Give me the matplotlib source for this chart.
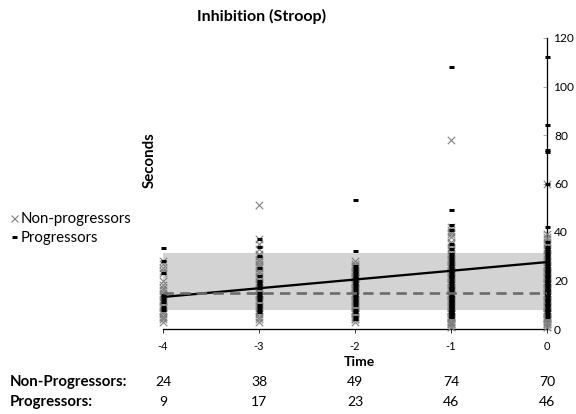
import matplotlib
matplotlib.use("Agg")
import matplotlib.pyplot as plt
import matplotlib.transforms as mtransforms
from matplotlib.lines import Line2D

plt.rcParams['font.family'] = ['Lato', 'DejaVu Sans']

title = "Inhibition (Stroop)"
times = [-4, -3, -2, -1, 0]
time_labels = ["-4", "-3", "-2", "-1", "0"]
n_nonprog = [24, 38, 49, 74, 70]
n_prog = [9, 17, 23, 46, 46]

np_m4 = [28, 27, 25, 24, 23, 20, 18, 17, 16, 15, 14, 13, 12, 11, 10, 9, 9, 8, 7, 6, 5, 5, 4, 3]
p_m4 = [33.5, 28, 23, 14, 13, 12, 11, 9, 8]
np_m3 = [51, 37, 35, 33, 31, 30, 29, 28, 27, 26, 25, 24, 23, 22, 21, 20, 19, 18, 18, 17,
         16, 16, 15, 14, 14, 13, 12, 12, 11, 10, 9, 8, 8, 7, 6, 5, 4, 3]
p_m3 = [37, 34, 30, 25, 22, 20, 19, 18, 17, 15, 14, 13, 12, 10, 9, 8, 7]
np_m2 = [28, 27, 26, 26, 25, 25, 24, 24, 23, 23, 22, 22, 21, 21, 20, 20, 19, 19, 18, 18,
         17, 17, 16, 16, 15, 15, 14, 14, 13, 13, 12, 12, 11, 11, 10, 10, 9, 9, 8, 8,
         7, 7, 6, 6, 5, 5, 4, 4, 3]
p_m2 = [53, 32, 26, 25, 24, 23, 22, 21, 20, 19, 18, 17, 16, 15, 14, 13, 12, 11, 10, 8, 7, 5, 4]
np_m1 = [78, 42, 41, 40, 39, 38, 36, 35, 34, 33, 32, 31, 30, 29, 29, 28, 28, 27, 27, 26,
         26, 25, 25, 24, 24, 23, 23, 22, 22, 21, 21, 20, 20, 19, 19, 18, 18, 17, 17, 16,
         16, 15, 15, 14, 14, 13, 13, 12, 12, 11, 11, 10, 10, 9, 9, 8, 8, 7, 7, 6,
         6, 5, 5, 4, 4, 3, 3, 2, 2, 1, 1, 2, 3, 5]
p_m1 = [108, 49, 43, 41, 35, 33, 31, 30, 29, 28, 27, 26, 25, 24, 24, 23, 22, 21, 20, 19,
        18, 17, 16, 15, 15, 14, 13, 12, 12, 11, 10, 10, 9, 9, 8, 8, 7, 7, 6, 6,
        5, 5, 11, 13, 17, 22]
np_0 = [60, 39, 38, 37, 36, 35, 34, 33, 32, 31, 30, 29, 28, 27, 26, 25, 25, 24, 24, 23,
        23, 22, 22, 21, 21, 20, 20, 19, 19, 18, 18, 17, 17, 16, 16, 15, 15, 14, 14, 13,
        13, 12, 12, 11, 11, 10, 10, 9, 9, 8, 8, 7, 7, 6, 6, 5, 5, 4, 4, 3,
        3, 2, 2, 1, 1, 2, 4, 6, 26, 30]
p_0 = [112, 84, 74, 73, 60, 42, 36, 34, 33, 32, 31, 30, 29, 28, 27, 26, 25, 24, 23, 22,
       21, 20, 19, 18, 17, 16, 15, 14, 13, 12, 11, 10, 9, 8, 7, 6, 5, 24, 22, 20,
       18, 16, 14, 12, 10, 8]

nonprog_values = [np_m4, np_m3, np_m2, np_m1, np_0]
prog_values = [p_m4, p_m3, p_m2, p_m1, p_0]

band_low, band_high = 7.8, 31.3
solid_line_y = [13.2, 27.6]
dashed_line_y = [15.0, 15.0]

fig = plt.figure(figsize=(8, 5.75), dpi=72)
ax = fig.add_axes([163/576, 85/414, 384/576, 291/414])
ax.set_xlim(-4, 0)
ax.set_ylim(0, 120)

ax.fill_between([times[0], times[-1]], band_low, band_high, color='#d3d3d3', zorder=1, linewidth=0)

for t, vals in zip(times, nonprog_values):
    ax.scatter([t]*len(vals), vals, marker='x', s=55, color='#7f7f7f', linewidths=1.1, zorder=3,
               clip_on=False)
for t, vals in zip(times, prog_values):
    ax.plot([t]*len(vals), vals, linestyle='none', marker='_', markersize=5, markeredgewidth=3,
            color='black', zorder=4, clip_on=False)

ax.plot([times[0], times[-1]], solid_line_y, color='black', linewidth=2.3, zorder=5)
ax.plot([times[0], times[-1]], dashed_line_y, color='#6a6a6a', linewidth=2.6, dashes=(4, 2.4), zorder=5)

for s in ['left', 'top']:
    ax.spines[s].set_visible(False)
ax.spines['right'].set_linewidth(1.3)
ax.spines['bottom'].set_linewidth(1.3)
ax.yaxis.tick_right()
ax.set_yticks([0, 20, 40, 60, 80, 100, 120])
ax.tick_params(axis='y', direction='in', length=4, color='#999999', labelsize=12, pad=7)
ax.set_xticks(times)
ax.set_xticklabels(time_labels)
ax.tick_params(axis='x', direction='out', length=4, labelsize=11, pad=8)

ax.text((262-163)/384, 1 + (38-16)/291, title, transform=ax.transAxes, ha='center', va='center',
        fontsize=16, fontweight='bold')
ax.text(-0.034, 0.58, "Seconds", transform=ax.transAxes, rotation=90, ha='center', va='center',
        fontsize=15, fontweight='bold')
fig.text(359/576, 1 - 362/414, "Time", ha='center', va='center', fontsize=14, fontweight='bold')

trans = mtransforms.blended_transform_factory(ax.transData, fig.transFigure)
fig.text(10/576, 1 - 382/414, "Non-Progressors:", ha='left', va='center', fontsize=15, fontweight='bold')
fig.text(10/576, 1 - 402/414, "Progressors:", ha='left', va='center', fontsize=15, fontweight='bold')
for t, a, b in zip(times, n_nonprog, n_prog):
    ax.text(t, 1 - 382/414, str(a), transform=trans, ha='center', va='center', fontsize=14)
    ax.text(t, 1 - 402/414, str(b), transform=trans, ha='center', va='center', fontsize=14)

handles = [Line2D([], [], linestyle='none', marker='x', color='#808080', markersize=7, markeredgewidth=1.1),
           Line2D([], [], linestyle='none', marker='_', color='black', markersize=5, markeredgewidth=3)]
fig.legend(handles, ["Non-progressors", "Progressors"], loc='upper left',
           bbox_to_anchor=(2/576, 1 - 205/414), frameon=False, fontsize=15,
           handlelength=0.55, handletextpad=0.2, labelspacing=0.3, borderpad=0)

fig.savefig("out.png", dpi=72)
